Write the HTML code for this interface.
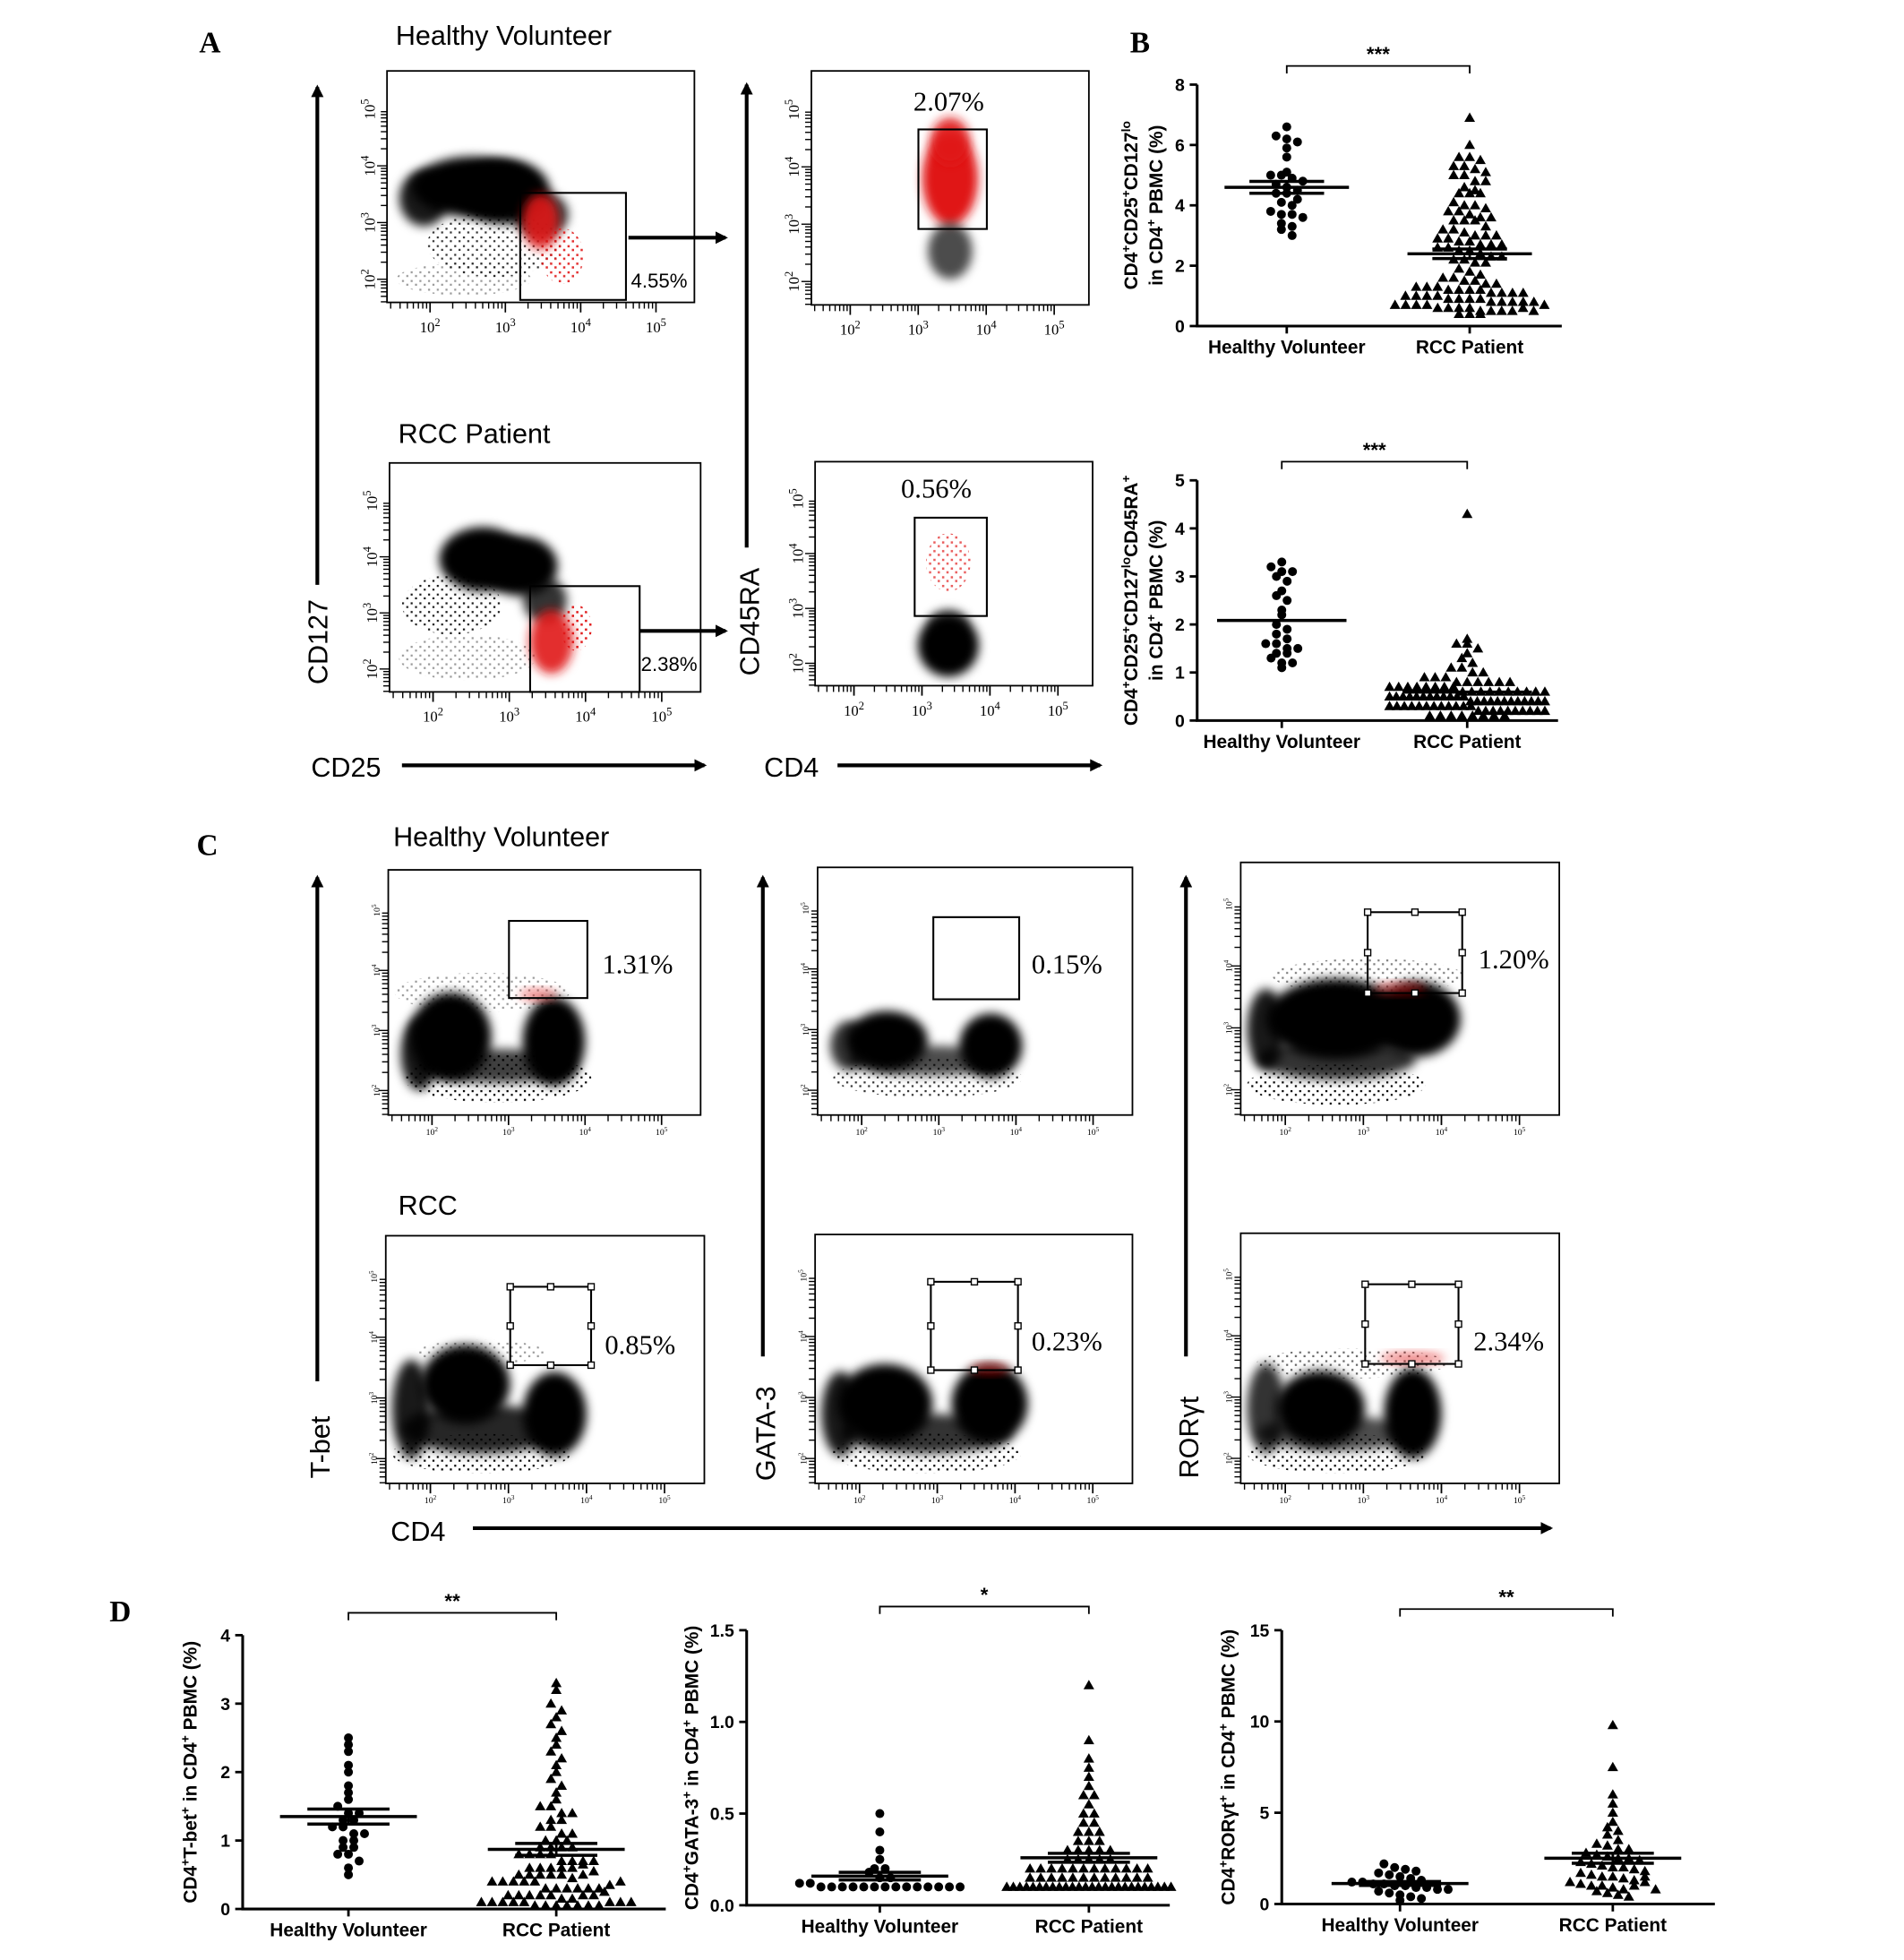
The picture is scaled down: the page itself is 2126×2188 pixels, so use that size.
<!DOCTYPE html>
<html><head><meta charset="utf-8">
<style>
html,body{margin:0;padding:0;background:#fff;}
svg{display:block;}
text{font-family:"Liberation Sans",sans-serif;}
.serif{font-family:"Liberation Serif",serif;}
</style></head>
<body>
<svg id="fig" width="2126" height="2188" viewBox="0 0 1530 1575" preserveAspectRatio="none" xmlns="http://www.w3.org/2000/svg">
<defs>
<filter id="bl" x="-50%" y="-50%" width="200%" height="200%"><feGaussianBlur stdDeviation="4"/></filter>
<pattern id="speck" width="7" height="7" patternUnits="userSpaceOnUse"><rect x="1" y="1" width="1.6" height="1.6" fill="#000"/><rect x="4.5" y="4" width="1.6" height="1.6" fill="#000"/></pattern>
<pattern id="speckR" width="7" height="7" patternUnits="userSpaceOnUse"><rect x="1" y="1" width="1.8" height="1.8" fill="#e01818"/><rect x="4.5" y="4" width="1.8" height="1.8" fill="#e01818"/></pattern>
<marker id="ah" markerWidth="10" markerHeight="10" refX="8" refY="5" orient="auto" markerUnits="userSpaceOnUse"><path d="M0,0 L10,5 L0,10 z" fill="#000"/></marker>
</defs>
<g id="static">
<text x="160" y="42" class="serif" font-size="24" font-weight="bold">A</text>
<text x="908" y="42" class="serif" font-size="24" font-weight="bold">B</text>
<text x="158" y="687" class="serif" font-size="24" font-weight="bold">C</text>
<text x="88" y="1303" class="serif" font-size="24" font-weight="bold">D</text>
<text x="318" y="36" font-size="22">Healthy Volunteer</text>
<text x="320" y="356" font-size="22">RCC Patient</text>
<text x="316" y="680" font-size="22">Healthy Volunteer</text>
<text x="320" y="976" font-size="22">RCC</text>
<line x1="255" y1="470" x2="255" y2="70" stroke="#000" stroke-width="3" marker-end="url(#ah)"/>
<text transform="translate(263,550) rotate(-90)" font-size="22">CD127</text>
<line x1="600" y1="440" x2="600" y2="68" stroke="#000" stroke-width="3" marker-end="url(#ah)"/>
<text transform="translate(610,543) rotate(-90)" font-size="22">CD45RA</text>
<text x="250" y="624" font-size="22">CD25</text>
<line x1="323" y1="615" x2="566" y2="615" stroke="#000" stroke-width="3" marker-end="url(#ah)"/>
<text x="614" y="624" font-size="22">CD4</text>
<line x1="673" y1="615" x2="884" y2="615" stroke="#000" stroke-width="3" marker-end="url(#ah)"/>
<line x1="505" y1="191" x2="583" y2="191" stroke="#000" stroke-width="3" marker-end="url(#ah)"/>
<line x1="514" y1="507" x2="583" y2="507" stroke="#000" stroke-width="3" marker-end="url(#ah)"/>
<line x1="255" y1="1110" x2="255" y2="705" stroke="#000" stroke-width="3" marker-end="url(#ah)"/>
<text transform="translate(265,1188) rotate(-90)" font-size="22">T-bet</text>
<line x1="613" y1="1090" x2="613" y2="705" stroke="#000" stroke-width="3" marker-end="url(#ah)"/>
<text transform="translate(623,1190) rotate(-90)" font-size="22">GATA-3</text>
<line x1="953" y1="1090" x2="953" y2="705" stroke="#000" stroke-width="3" marker-end="url(#ah)"/>
<text transform="translate(963,1188) rotate(-90)" font-size="22">RORγt</text>
<text x="314" y="1238" font-size="22">CD4</text>
<line x1="380" y1="1228" x2="1246" y2="1228" stroke="#000" stroke-width="3" marker-end="url(#ah)"/>
</g>
<g id="flow"></g>
<g id="charts"></g>
</svg>
<script>
const bTopHV=[6.6,6.3,6.2,6.1,5.9,5.6,5.1,5.0,5.0,4.9,4.8,4.7,4.6,4.5,4.4,4.4,4.2,4.1,4.0,3.8,3.7,3.7,3.6,3.4,3.3,3.2,3.0];
const bTopRCC=[6.9,6.0,5.6,5.6,5.5,5.3,5.3,5.2,5.1,5.0,5.0,4.8,4.8,4.6,4.5,4.4,4.4,4.4,4.1,4.0,4.0,3.9,3.8,3.8,3.7,3.6,3.6,3.5,3.5,3.5,3.3,3.2,3.2,3.1,3.0,3.0,3.0,2.9,2.9,2.8,2.8,2.7,2.7,2.7,2.6,2.6,2.5,2.5,2.4,2.3,2.3,2.2,2.2,2.1,2.1,1.9,1.8,1.7,1.6,1.6,1.5,1.5,1.4,1.4,1.3,1.3,1.3,1.2,1.2,1.2,1.2,1.1,1.1,1.1,1.1,1.0,1.0,1.0,1.0,0.9,0.9,0.9,0.9,0.8,0.8,0.8,0.8,0.7,0.7,0.7,0.7,0.6,0.6,0.6,0.6,0.5,0.5,0.5,0.5,0.4,0.4,0.4,0.6,0.5,0.8,0.7];
const bBotHV=[3.3,3.2,3.1,3.1,3.0,2.9,2.7,2.6,2.5,2.3,2.2,2.0,1.9,1.8,1.7,1.6,1.6,1.5,1.5,1.4,1.4,1.3,1.2,1.2,1.1];
const bBotRCC=[4.3,1.7,1.6,1.6,1.5,1.4,1.3,1.2,1.1,1.1,1.0,1.0,0.9,0.9,0.9,0.8,0.8,0.8,0.8,0.8,0.8,0.7,0.7,0.7,0.7,0.7,0.7,0.7,0.7,0.6,0.6,0.6,0.6,0.6,0.6,0.6,0.6,0.6,0.6,0.5,0.5,0.5,0.5,0.5,0.5,0.5,0.5,0.5,0.5,0.5,0.5,0.4,0.4,0.4,0.4,0.4,0.4,0.4,0.4,0.4,0.4,0.4,0.4,0.3,0.3,0.3,0.3,0.3,0.3,0.3,0.3,0.3,0.3,0.3,0.3,0.2,0.2,0.2,0.2,0.2,0.2,0.2,0.2,0.2,0.2,0.1,0.1,0.1,0.1,0.1,0.1,0.1,0.1];
const dTbetHV=[2.5,2.4,2.3,2.1,2.0,1.8,1.7,1.6,1.5,1.4,1.4,1.3,1.3,1.2,1.2,1.1,1.1,1.0,1.0,0.9,0.9,0.8,0.8,0.7,0.6,0.5];
const dTbetRCC=[3.3,3.2,3.0,2.9,2.8,2.7,2.6,2.5,2.4,2.3,2.2,2.1,2.0,1.9,1.8,1.7,1.6,1.5,1.5,1.4,1.4,1.3,1.3,1.2,1.2,1.1,1.1,1.0,1.0,1.0,0.9,0.9,0.9,0.9,0.8,0.8,0.8,0.8,0.7,0.7,0.7,0.7,0.6,0.6,0.6,0.6,0.5,0.5,0.5,0.5,0.5,0.4,0.4,0.4,0.4,0.4,0.3,0.3,0.3,0.3,0.3,0.2,0.2,0.2,0.2,0.2,0.1,0.1,0.1,0.1,0.1,0.05,0.05,0.05,0.05,0.05,0.05,0.05,0.1,0.1,0.1,0.15,0.15,0.2,0.2,0.25,0.3,0.35,0.4,0.45,0.5,0.55,0.6,0.65];
const dGataHV=[0.5,0.4,0.3,0.25,0.2,0.2,0.18,0.15,0.15,0.12,0.12,0.1,0.1,0.1,0.1,0.1,0.1,0.1,0.1,0.1,0.1,0.1,0.1,0.1,0.1];
const dGataRCC=[1.2,0.9,0.8,0.75,0.7,0.65,0.6,0.6,0.55,0.5,0.5,0.45,0.45,0.4,0.4,0.4,0.35,0.35,0.35,0.3,0.3,0.3,0.3,0.3,0.25,0.25,0.25,0.25,0.25,0.2,0.2,0.2,0.2,0.2,0.2,0.2,0.2,0.15,0.15,0.15,0.15,0.15,0.15,0.15,0.15,0.1,0.1,0.1,0.1,0.1,0.1,0.1,0.1,0.1,0.1,0.1,0.1,0.1,0.1,0.1,0.1,0.1,0.1,0.1,0.1,0.1,0.1,0.15,0.15,0.15,0.15,0.2,0.2,0.2,0.2,0.1,0.1,0.1,0.1];
const dRorHV=[2.2,2.0,1.9,1.8,1.7,1.6,1.5,1.4,1.3,1.2,1.2,1.1,1.1,1.0,1.0,0.9,0.9,0.8,0.8,0.7,0.6,0.5,0.4,0.3,0.2];
const dRorRCC=[9.8,7.5,6.0,5.5,5.0,4.5,4.2,4.0,3.8,3.5,3.3,3.2,3.0,3.0,2.8,2.7,2.6,2.5,2.5,2.4,2.3,2.2,2.1,2.0,2.0,1.9,1.8,1.7,1.6,1.5,1.5,1.4,1.3,1.2,1.1,1.0,1.0,0.9,0.8,0.7,0.6,0.5,0.4,1.0,1.2,0.8,1.5];
const groupLabels=["Healthy Volunteer","RCC Patient"];
const ticksBTop=[0,2,4,6,8];
const ticksBBot=[0,1,2,3,4,5];
const ticksTbet=[0,1,2,3,4];
const ticksGata=[0,0.5,1.0,1.5];
const tickLabelsGata=["0.0","0.5","1.0","1.5"];
const ticksRor=[0,5,10,15];
const stars=["***","***","**","*","**"];
const gatePct=["4.55%","2.07%","2.38%","0.56%","1.31%","0.15%","1.20%","0.85%","0.23%","2.34%"];

const NS="http://www.w3.org/2000/svg";
function mk(parent,tag,attrs,txt){const e=document.createElementNS(NS,tag);for(const k in attrs)e.setAttribute(k,attrs[k]);if(txt!==undefined)e.textContent=txt;parent.appendChild(e);return e;}
const charts=document.getElementById('charts');
const flow=document.getElementById('flow');

function scatterChart(c){
  const g=mk(charts,'g',{});
  
  
  const y=v=>c.y0-(v/c.ymax)*(c.y0-c.y1);
  const ax=mk(g,'path',{d:`M${c.x0},${c.y1} L${c.x0},${c.y0} L${c.x2},${c.y0}`,fill:'none',stroke:'#000','stroke-width':2.2});
  
  
  c.ticks.forEach((t,i)=>{
    mk(g,'line',{x1:c.x0-6,x2:c.x0,y1:y(t),y2:y(t),stroke:'#000','stroke-width':2});
    const tl=mk(g,'text',{x:c.x0-10,y:y(t)+5,'font-size':14,'font-weight':'bold','text-anchor':'end'},c.tickLabels?c.tickLabels[i]:String(t));
    
    
  });
  const groups=[{cx:c.cx[0],vals:c.hv,shape:'circle'},{cx:c.cx[1],vals:c.rcc,shape:'tri'}];
  groups.forEach((gr,gi)=>{
    mk(g,'line',{x1:gr.cx,x2:gr.cx,y1:c.y0,y2:c.y0+6,stroke:'#000','stroke-width':2});
    const lab=mk(g,'text',{x:gr.cx,y:c.y0+22,'font-size':15,'font-weight':'bold','text-anchor':'middle'},groupLabels[gi]);
    
    
    const bins={};
    gr.vals.forEach(v=>{const py=y(v);const b=Math.round(py/7.5);(bins[b]=bins[b]||[]).push(py);});
    const maxW=gi===0?c.mw*1.2:c.mw*1.2;
    for(const b in bins){const arr=bins[b];const k=arr.length;
      const sp=k>1?Math.min(8.6,2*maxW/(k-1)):0;
      arr.forEach((py,i)=>{const px=gr.cx+(i-(k-1)/2)*sp;
        let m;
        if(gr.shape==='circle'){m=mk(g,'circle',{cx:px,cy:py,r:3.6,fill:'#000'});}
        else{m=mk(g,'path',{d:`M${px},${py-4.3} L${px+4.3},${py+3.2} L${px-4.3},${py+3.2} z`,fill:'#000'});}
        
        
      });}
    const n=gr.vals.length;const mean=gr.vals.reduce((a,b)=>a+b,0)/n;
    const sd=Math.sqrt(gr.vals.reduce((a,b)=>a+(b-mean)*(b-mean),0)/(n-1));const sem=sd/Math.sqrt(n);
    const ml=mk(g,'line',{x1:gr.cx-c.mw,x2:gr.cx+c.mw,y1:y(mean),y2:y(mean),stroke:'#000','stroke-width':2.5});
    
    
    if(c.sem){[mean-sem,mean+sem].forEach(v=>{const s=mk(g,'line',{x1:gr.cx-c.mw*0.6,x2:gr.cx+c.mw*0.6,y1:y(v),y2:y(v),stroke:'#000','stroke-width':2.5});
      
      });
      mk(g,'line',{x1:gr.cx,x2:gr.cx,y1:y(mean-sem),y2:y(mean+sem),stroke:'#000','stroke-width':2});}
  });
  const br=mk(g,'path',{d:`M${c.cx[0]},${c.by+6} L${c.cx[0]},${c.by} L${c.cx[1]},${c.by} L${c.cx[1]},${c.by+6}`,fill:'none',stroke:'#000','stroke-width':1.3});
  
  
  const st=mk(g,'text',{x:(c.cx[0]+c.cx[1])/2,y:c.by-4,'font-size':16,'font-weight':'bold','text-anchor':'middle'},c.star);
  
  
  const yt=mk(g,'text',{transform:`translate(${c.tx},${(c.y0+c.y1)/2}) rotate(-90)`,'font-size':15,'font-weight':'bold','text-anchor':'middle'});
  
  
  c.title.forEach((line,li)=>{
    const ts=mk(yt,'tspan',{x:0,dy:li===0?0:20});
    line.forEach(([t,sup])=>{mk(ts,'tspan',sup?{'baseline-shift':'super','font-size':10}:{},t);});
  });
}

scatterChart({name:'tregs-chart',x0:962,x2:1255,y0:262,y1:68,ymax:8,ticks:ticksBTop,cx:[1034,1181],hv:bTopHV,rcc:bTopRCC,mw:50,sem:true,by:53,star:stars[0],tx:914,
  title:[[["CD4"],["+",1],["CD25"],["+",1],["CD127"],["lo",1]],[["in CD4"],["+",1],[" PBMC (%)"]]]});
scatterChart({name:'naive-tregs-chart',x0:962,x2:1252,y0:579,y1:386,ymax:5,ticks:ticksBBot,cx:[1030,1179],hv:bBotHV,rcc:bBotRCC,mw:52,sem:false,by:371,star:stars[1],tx:914,
  title:[[["CD4"],["+",1],["CD25"],["+",1],["CD127"],["lo",1],["CD45RA"],["+",1]],[["in CD4"],["+",1],[" PBMC (%)"]]]});
scatterChart({name:'tbet-chart',x0:195,x2:535,y0:1534,y1:1314,ymax:4,ticks:ticksTbet,cx:[280,447],hv:dTbetHV,rcc:dTbetRCC,mw:55,sem:true,by:1296,star:stars[2],tx:158,
  title:[[["CD4"],["+",1],["T-bet"],["+",1],[" in CD4"],["+",1],[" PBMC (%)"]]]});
scatterChart({name:'gata3-chart',x0:600,x2:940,y0:1531,y1:1310,ymax:1.5,ticks:ticksGata,tickLabels:tickLabelsGata,cx:[707,875],hv:dGataHV,rcc:dGataRCC,mw:55,sem:true,by:1291,star:stars[3],tx:561,
  title:[[["CD4"],["+",1],["GATA-3"],["+",1],[" in CD4"],["+",1],[" PBMC (%)"]]]});
scatterChart({name:'rorgt-chart',x0:1030,x2:1378,y0:1530,y1:1310,ymax:15,ticks:ticksRor,cx:[1125,1296],hv:dRorHV,rcc:dRorRCC,mw:55,sem:true,by:1293,star:stars[4],tx:992,
  title:[[["CD4"],["+",1],["RORγt"],["+",1],[" in CD4"],["+",1],[" PBMC (%)"]]]});

function flowPlot(p){
  const g=mk(flow,'g',{});
  
  
  const [x,y,w,h]=p.box;
  const cl=mk(g,'g',{});
  p.blobs.forEach(b=>{
    const red=!!b[5];
    if(b[4]<0.6){mk(cl,'ellipse',{cx:x+b[0]*w,cy:y+b[1]*h,rx:b[2]*w,ry:b[3]*h,fill:red?'url(#speckR)':'url(#speck)','fill-opacity':Math.min(1,b[4]*2)});}
    else mk(cl,'ellipse',{cx:x+b[0]*w,cy:y+b[1]*h,rx:b[2]*w,ry:b[3]*h,fill:b[5]||'#000','fill-opacity':b[4],filter:'url(#bl)'});});
  const r=mk(g,'rect',{x:x,y:y,width:w,height:h,fill:'none',stroke:'#000','stroke-width':1.3});
  
  
  const big=p.big;
  const fs=big?12:7;
  for(let d=0;d<4;d++){const fx=x+w*(0.14+d*0.245);
    for(let m=1;m<=9;m++){const tx=fx-w*0.245+Math.log10(m)*w*0.245;if(tx>x&&tx<x+w)mk(g,'line',{x1:tx,x2:tx,y1:y+h,y2:y+h+(m===1?8:5),stroke:'#000','stroke-width':1});}
    mk(g,'line',{x1:fx,x2:fx,y1:y+h,y2:y+h+8,stroke:'#000','stroke-width':1.2});
    const t=mk(g,'text',{x:fx,y:y+h+(big?24:16),'font-size':fs,'text-anchor':'middle',class:'serif'});
    mk(t,'tspan',{},'10');mk(t,'tspan',{'baseline-shift':'super','font-size':fs*0.75},String(d+2));
    
    
    const fy=y+h-h*(0.1+d*0.245);
    for(let m=1;m<=9;m++){const ty=fy+h*0.245-Math.log10(m)*h*0.245;if(ty>y&&ty<y+h)mk(g,'line',{x1:x-(m===1?8:5),x2:x,y1:ty,y2:ty,stroke:'#000','stroke-width':1});}
    const tl=mk(g,'text',{transform:`translate(${x-(big?10:7)},${fy}) rotate(-90)`,'font-size':fs,'text-anchor':'middle',class:'serif'});
    mk(tl,'tspan',{},'10');mk(tl,'tspan',{'baseline-shift':'super','font-size':fs*0.75},String(d+2));
    
    
  }
  const [gx,gy,gw,gh]=p.gate;
  const gr=mk(g,'rect',{x:gx,y:gy,width:gw,height:gh,fill:'none',stroke:'#000','stroke-width':1.5});
  
  
  if(p.handles){[[0,0],[.5,0],[1,0],[0,.5],[1,.5],[0,1],[.5,1],[1,1]].forEach(([a,b])=>{const hd=mk(g,'rect',{x:gx+a*gw-2.5,y:gy+b*gh-2.5,width:5,height:5,fill:'#fff',stroke:'#000','stroke-width':1});
    
    });}
  const pt=mk(g,'text',{x:p.pct[0],y:p.pct[1],'font-size':p.pct[2],class:p.pct[3]?'':'serif'},p.pctText);
  
  
}
const R='#e01818';
flowPlot({name:'cd25-cd127-hv',box:[311,57,247,186],gate:[418,155,85,86],pct:[507,231,16,1],pctText:gatePct[0],big:true,
  blobs:[[0.35,0.75,0.22,0.14,0.4],[0.25,0.9,0.22,0.07,0.2],[0.28,0.5,0.2,0.13,1],[0.38,0.52,0.15,0.14,1],[0.12,0.55,0.08,0.12,0.9],[0.5,0.62,0.09,0.1,0.8],[0.5,0.65,0.06,0.12,0.9,R],[0.57,0.8,0.07,0.12,0.45,R]]});
flowPlot({name:'cd4-cd45ra-hv',box:[652,57,223,188],gate:[738,104,55,80],pct:[734,89,22],pctText:gatePct[1],big:true,
  blobs:[[0.5,0.46,0.1,0.2,1,R],[0.5,0.3,0.07,0.1,0.9,R],[0.5,0.77,0.08,0.12,0.7]]});
flowPlot({name:'cd25-cd127-rcc',box:[313,372,250,184],gate:[426,471,88,85],pct:[515,539,16,1],pctText:gatePct[2],big:true,
  blobs:[[0.2,0.62,0.16,0.13,0.45],[0.25,0.85,0.22,0.1,0.2],[0.3,0.42,0.14,0.14,1],[0.42,0.45,0.12,0.13,1],[0.5,0.6,0.07,0.1,0.8],[0.52,0.78,0.07,0.14,0.9,R],[0.6,0.72,0.05,0.1,0.5,R]]});
flowPlot({name:'cd4-cd45ra-rcc',box:[655,371,223,180],gate:[735,416,58,79],pct:[724,400,22],pctText:gatePct[3],big:true,
  blobs:[[0.48,0.45,0.08,0.13,0.35,R],[0.48,0.82,0.11,0.14,1],[0.48,0.72,0.07,0.06,0.6]]});
flowPlot({name:'tbet-hv',box:[312,699,251,197],gate:[409,740,63,62],pct:[484,782,22],pctText:gatePct[4],
  blobs:[[0.3,0.5,0.28,0.08,0.2],[0.35,0.85,0.3,0.1,0.5],[0.2,0.68,0.13,0.18,1],[0.53,0.7,0.1,0.18,1],[0.35,0.8,0.25,0.07,0.75],[0.1,0.75,0.06,0.15,0.9],[0.48,0.51,0.06,0.02,0.6,R]]});
flowPlot({name:'gata3-hv',box:[657,697,253,199],gate:[750,737,69,66],pct:[829,782,22],pctText:gatePct[5],
  blobs:[[0.35,0.85,0.3,0.08,0.4],[0.22,0.7,0.13,0.12,1],[0.55,0.72,0.1,0.13,1],[0.35,0.78,0.25,0.06,0.7],[0.1,0.72,0.06,0.1,0.8]]});
flowPlot({name:'rorgt-hv',box:[997,693,256,203],gate:[1099,733,76,65],pct:[1188,778,22],pctText:gatePct[6],handles:true,
  blobs:[[0.4,0.45,0.3,0.07,0.25],[0.3,0.88,0.28,0.08,0.5],[0.3,0.62,0.22,0.16,1],[0.55,0.62,0.14,0.15,1],[0.3,0.78,0.25,0.08,0.8],[0.08,0.66,0.06,0.16,0.9],[0.5,0.5,0.08,0.02,0.6,R]]});
flowPlot({name:'tbet-rcc',box:[310,993,256,199],gate:[410,1034,65,63],pct:[486,1088,22],pctText:gatePct[7],handles:true,
  blobs:[[0.3,0.47,0.2,0.05,0.2],[0.3,0.88,0.28,0.08,0.5],[0.25,0.6,0.14,0.16,1],[0.53,0.72,0.1,0.17,1],[0.3,0.78,0.25,0.1,0.85],[0.08,0.7,0.06,0.2,0.9]]});
flowPlot({name:'gata3-rcc',box:[655,992,255,200],gate:[748,1030,70,71],pct:[829,1085,22],pctText:gatePct[8],handles:true,
  blobs:[[0.35,0.88,0.3,0.08,0.5],[0.22,0.68,0.15,0.16,1],[0.55,0.68,0.12,0.16,1],[0.35,0.8,0.27,0.08,0.8],[0.08,0.72,0.06,0.17,0.9],[0.55,0.54,0.06,0.02,0.6,R]]});
flowPlot({name:'rorgt-rcc',box:[997,991,256,201],gate:[1097,1032,75,64],pct:[1184,1085,22],pctText:gatePct[9],handles:true,
  blobs:[[0.35,0.52,0.3,0.06,0.3],[0.3,0.88,0.28,0.08,0.5],[0.25,0.7,0.14,0.15,1],[0.54,0.72,0.09,0.18,1],[0.3,0.8,0.25,0.07,0.7],[0.08,0.7,0.06,0.18,0.8],[0.54,0.5,0.1,0.02,0.6,R]]});
</script>
</body></html>
